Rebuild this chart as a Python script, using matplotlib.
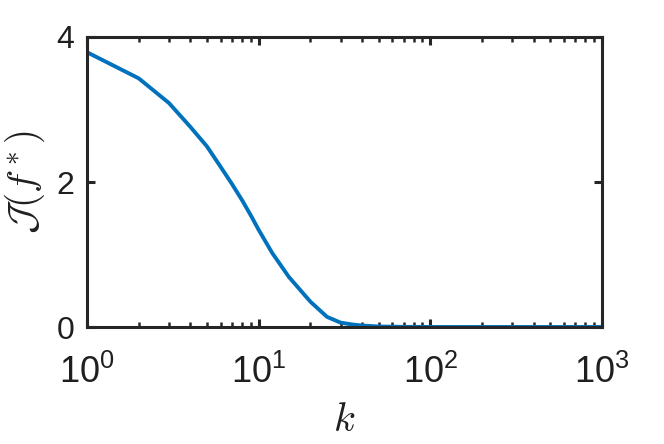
import matplotlib
matplotlib.use("Agg")
import matplotlib.pyplot as plt
from matplotlib import font_manager
from matplotlib.ticker import LogLocator, NullFormatter, FixedLocator

k = [1, 2, 3, 4, 5, 6, 7, 8, 9, 10, 12, 15, 20, 25, 30, 35, 40, 50, 70, 100, 1000]
J = [3.79, 3.43, 3.09, 2.76, 2.49, 2.21, 1.97, 1.75, 1.54, 1.34, 1.02, 0.69, 0.35, 0.14,
     0.06, 0.035, 0.02, 0.007, 0.002, 0.0005, 0.0]

ytick_vals = [0, 2, 4]
xtick_vals = [1, 10, 100, 1000]
xtick_labels = [r"$10^0$", r"$10^1$", r"$10^2$", r"$10^3$"]

names = {f.name for f in font_manager.fontManager.ttflist}
narrow = "Liberation Sans Narrow" if "Liberation Sans Narrow" in names else "Liberation Sans"

plt.rcParams["font.family"] = ["Liberation Sans", "DejaVu Sans"]
plt.rcParams["mathtext.fontset"] = "custom"
plt.rcParams["mathtext.rm"] = narrow
plt.rcParams["mathtext.it"] = narrow + ":italic"

fig = plt.figure(figsize=(6.64, 4.44), dpi=100)
ax = fig.add_axes([87/664, 1 - 327/444, (602-87)/664, (327-37)/444])

ax.plot(k, J, color=(0.0, 0.447, 0.741), lw=2.8, solid_capstyle="butt")
ax.set_xscale("log")
ax.set_xlim(1, 1000)
ax.set_ylim(0, 4)

ax.xaxis.set_major_locator(FixedLocator(xtick_vals))
ax.set_xticklabels(xtick_labels)
ax.xaxis.set_minor_locator(LogLocator(base=10, subs=range(2, 10)))
ax.xaxis.set_minor_formatter(NullFormatter())
ax.set_yticks(ytick_vals)
ax.set_yticklabels([str(v) for v in ytick_vals])

edge = (0.15, 0.15, 0.15)
txt = (0.12, 0.12, 0.12)
for s in ax.spines.values():
    s.set_linewidth(2.2)
    s.set_color(edge)
ax.tick_params(which="both", direction="in", top=True, right=True, colors=edge,
               labelcolor=txt)
ax.tick_params(which="major", length=6, width=2.2)
ax.tick_params(axis="y", which="major", labelsize=23, pad=9)
ax.tick_params(axis="x", which="major", labelsize=26, pad=20)
ax.tick_params(which="minor", length=3.5, width=1.8)

ax.set_xlabel(r"$k$", fontsize=29, math_fontfamily="cm", color=txt)
ax.xaxis.set_label_coords(0.5, -(401 - 327) / 290, transform=ax.transAxes)
ax.set_ylabel(r"$\mathcal{J}(f^*)$", fontsize=28, math_fontfamily="cm", color=txt)
ax.yaxis.set_label_coords(-(87 - 47) / 515, 0.5, transform=ax.transAxes)

fig.savefig("out.png", dpi=100)
